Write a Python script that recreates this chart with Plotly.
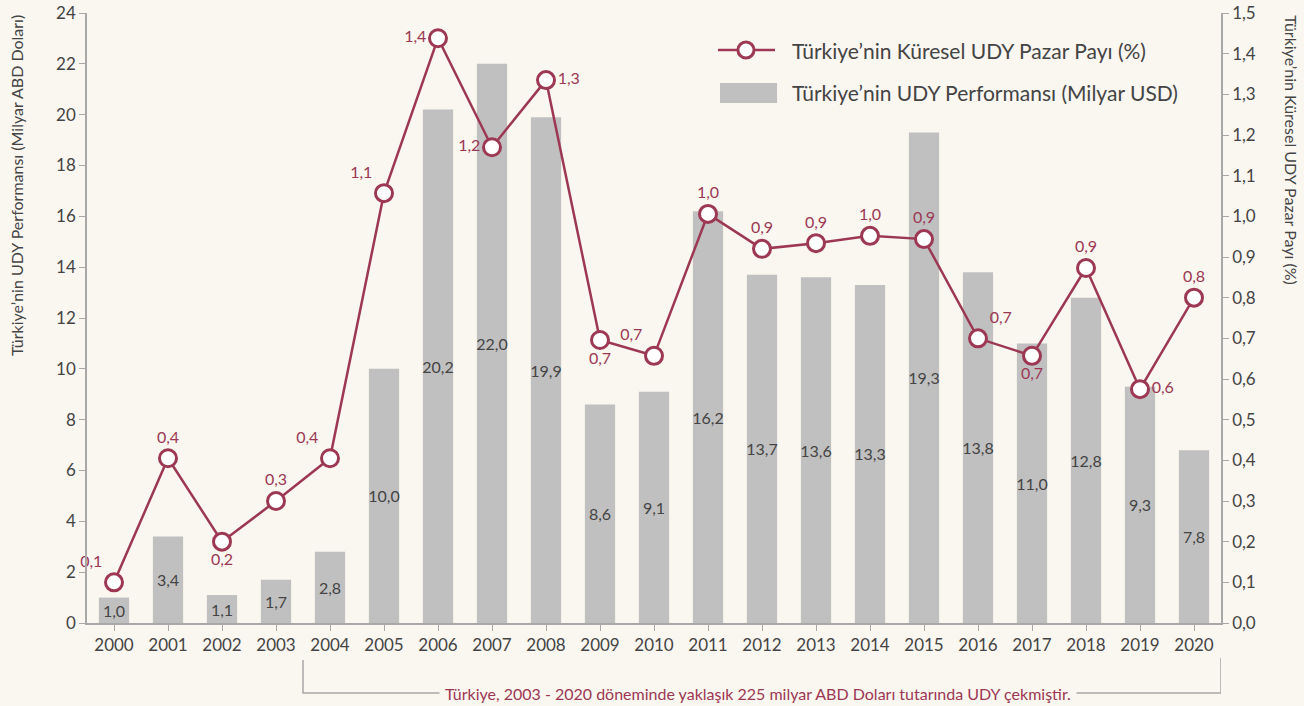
import plotly.graph_objects as go

years = [str(y) for y in range(2000, 2021)]
udy_bars = [1.0, 3.4, 1.1, 1.7, 2.8, 10.0, 20.2, 22.0, 19.9, 8.6, 9.1, 16.2, 13.7, 13.6, 13.3, 19.3, 13.8, 11.0, 12.8, 9.3, 6.8]
udy_labels = ["1,0", "3,4", "1,1", "1,7", "2,8", "10,0", "20,2", "22,0", "19,9", "8,6", "9,1", "16,2",
              "13,7", "13,6", "13,3", "19,3", "13,8", "11,0", "12,8", "9,3", "7,8"]
share = [0.10, 0.405, 0.20, 0.30, 0.405, 1.057, 1.438, 1.17, 1.335, 0.696, 0.657, 1.006,
         0.92, 0.934, 0.952, 0.944, 0.70, 0.657, 0.873, 0.575, 0.80]
share_labels = ["0,1", "0,4", "0,2", "0,3", "0,4", "1,1", "1,4", "1,2", "1,3", "0,7", "0,7", "1,0",
                "0,9", "0,9", "1,0", "0,9", "0,7", "0,7", "0,9", "0,6", "0,8"]
share_pos = ["top left", "top center", "bottom center", "top center", "top left", "top left",
             "middle left", "middle left", "middle right", "bottom center", "top left", "top center",
             "top center", "top center", "top center", "top center", "top right", "bottom center",
             "top center", "middle right", "top center"]
legend_line_name = "Türkiye’nin Küresel UDY Pazar Payı (%)"
legend_bar_name = "Türkiye’nin UDY Performansı (Milyar USD)"

BG = "#faf6f0"
MAROON = "#9c3853"
GRAY_BAR = "#c0c0c0"
TXT = "#444444"
AX = "#a8a8a8"
FONT = "Lato"

fig = go.Figure()
fig.add_trace(go.Bar(
    x=years, y=udy_bars, name=legend_bar_name, showlegend=False,
    marker=dict(color=GRAY_BAR, line=dict(width=0)), width=0.56,
    text=udy_labels, textposition="inside", insidetextanchor="middle", constraintext="none",
    textfont=dict(color=TXT, size=16, family=FONT), textangle=0,
    cliponaxis=False, yaxis="y"))
fig.add_trace(go.Scatter(
    x=years, y=share, name=legend_line_name, showlegend=False,
    mode="lines+markers+text", yaxis="y2",
    line=dict(color=MAROON, width=2.5),
    marker=dict(symbol="circle", size=17, color="white", line=dict(color=MAROON, width=3)),
    text=share_labels, textposition=share_pos,
    textfont=dict(color=MAROON, size=16, family=FONT), cliponaxis=False))

fig.update_layout(
    width=1304, height=706, autosize=False,
    paper_bgcolor=BG, plot_bgcolor=BG,
    margin=dict(l=87, r=83, t=13, b=83, pad=0),
    separators=",.",
    font=dict(family=FONT, color=TXT, size=17),
    showlegend=False,
    xaxis=dict(type="category", showline=True, linecolor=AX, linewidth=1.5, automargin=False,
               ticks="outside", tickcolor=AX, ticklen=6, tickfont=dict(size=17, color=TXT),
               showgrid=False, zeroline=False, range=[-0.5, 20.5]),
    yaxis=dict(range=[0, 24], dtick=2, showline=True, linecolor=AX, linewidth=1.5, automargin=False,
               ticks="outside", tickcolor=AX, ticklen=6, tickfont=dict(size=17, color=TXT),
               showgrid=False, zeroline=False),
    yaxis2=dict(range=[0, 1.5], dtick=0.1, tickformat=".1f", overlaying="y", side="right",
                automargin=False,
                showline=True, linecolor=AX, linewidth=1.5, ticks="outside", tickcolor=AX,
                ticklen=6, tickfont=dict(size=17, color=TXT), showgrid=False, zeroline=False),
)

# axis titles
fig.add_annotation(text="Türkiye’nin UDY Performansı (Milyar ABD Doları)", textangle=-90,
                   xref="paper", yref="paper", x=-0.0622, y=1.0, xanchor="center", yanchor="top",
                   showarrow=False, font=dict(size=16, color=TXT))
fig.add_annotation(text="Türkiye’nin Küresel UDY Pazar Payı (%)", textangle=90,
                   xref="paper", yref="paper", x=1.0625, y=1.0, xanchor="center", yanchor="top",
                   showarrow=False, font=dict(size=16, color=TXT))

# legend (drawn manually to match the reference symbols)
fig.add_shape(type="line", xref="paper", yref="paper", x0=0.5564, x1=0.6067, y0=0.9393, y1=0.9393,
              line=dict(color=MAROON, width=2.5))
fig.add_shape(type="circle", xref="paper", yref="paper",
              x0=0.5811 - 0.0071, x1=0.5811 + 0.0071, y0=0.9393 - 0.0131, y1=0.9393 + 0.0131,
              fillcolor="white", line=dict(color=MAROON, width=3))
fig.add_shape(type="rect", xref="paper", yref="paper", x0=0.5582, x1=0.6085, y0=0.8525, y1=0.8852,
              fillcolor=GRAY_BAR, line=dict(width=0))
fig.add_annotation(text=legend_line_name, xref="paper", yref="paper", x=0.6199, y=0.9393,
                   xanchor="left", yanchor="middle", showarrow=False, font=dict(size=21, color=TXT))
fig.add_annotation(text=legend_bar_name, xref="paper", yref="paper", x=0.6199, y=0.8689,
                   xanchor="left", yanchor="middle", showarrow=False, font=dict(size=21, color=TXT))

# bracket below the axis
fig.add_shape(type="path", xref="x", yref="paper",
              path="M 3.5,-0.0607 L 3.5,-0.1148 L 20.5,-0.1148 L 20.5,-0.0575",
              line=dict(color=AX, width=1.5))
fig.add_annotation(text="Türkiye, 2003 - 2020 döneminde yaklaşık 225 milyar ABD Doları tutarında UDY çekmiştir.",
                   xref="x", yref="paper", x=11.92, y=-0.1148, xanchor="center", yanchor="middle",
                   showarrow=False, bgcolor=BG, borderpad=5, font=dict(size=16, color=MAROON))

fig.write_html("out.html", config={"displayModeBar": False},
               post_script="document.body.style.margin='0';document.body.style.overflow='hidden';")
